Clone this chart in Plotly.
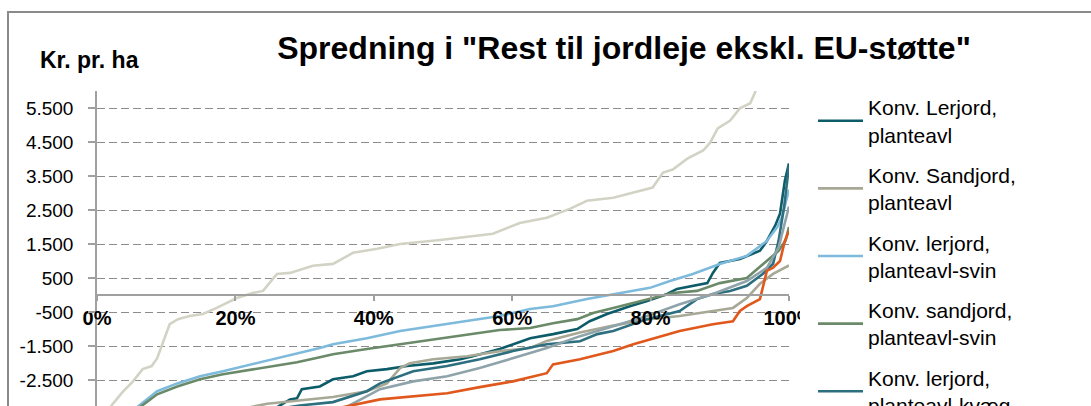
import plotly.graph_objects as go

# ---------------- data ----------------
series_names = [
    "Konv. Lerjord,<br>planteavl",
    "Konv. Sandjord,<br>planteavl",
    "Konv. lerjord,<br>planteavl-svin",
    "Konv. sandjord,<br>planteavl-svin",
    "Konv. lerjord,<br>planteavl-kvæg",
    "Konv. sandjord,<br>planteavl-kvæg",
    "Øko. lerjord,<br>planteavl",
    "Øko. kvæg",
]
series_colors = ["#0d5c6a", "#a8a896", "#7ebadb", "#6b8a69", "#2d6f7f",
                 "#8fa4aa", "#e0581c", "#d3d3c5"]

x_lerjord_pl = [0, 5, 10, 15, 20, 24, 26.7, 27.9, 28.9, 29.6, 32.2, 34.1, 37.0, 39.0, 41.9, 44.8,
                48.6, 52.5, 54.3, 58.2, 62.6, 65.9, 69.4, 71.2, 73.7, 77.0, 79.5, 82.4, 83.8,
                86.1, 88.2, 89.0, 90.0, 92.9, 95.8, 96.8, 98.0, 98.7, 99.4, 100]
y_lerjord_pl = [-7000, -5600, -4800, -4300, -3900, -3550, -3220, -3070, -3040, -2770, -2690, -2480,
                -2390, -2240, -2180, -2090, -2010, -1890, -1800, -1590, -1270, -1150, -1000, -770,
                -560, -330, -180, 30, 180, 270, 350, 650, 940, 1060, 1300, 1590, 2040, 2390, 3360, 3870]

x_sandjord_pl = [0, 10, 18, 22.1, 24.6, 29.3, 34.1, 39.0, 41.9, 43.8, 45.2, 48.6, 53.5, 58.2,
                 62.6, 65.0, 69.8, 74.6, 79.5, 84.2, 89.0, 91.9, 93.9, 95.8, 97.7, 100]
y_sandjord_pl = [-6500, -4800, -3800, -3300, -3200, -3100, -3000, -2830, -2600, -2150, -2010, -1890,
                 -1800, -1650, -1560, -1350, -1100, -900, -720, -620, -470, -380, -90, 330, 620, 870]

x_lerjord_svin = [0, 3, 5.8, 8.7, 11.6, 14.9, 18.2, 21.7, 25.4, 28.9, 32.2, 34.1, 39.0, 43.8, 48.6,
                  53.5, 58.2, 62.6, 65.9, 70.8, 75.6, 79.9, 82.8, 86.1, 90.0, 93.9, 96.8, 98.3,
                  99.0, 99.5, 100]
y_lerjord_svin = [-5200, -4000, -3300, -2830, -2600, -2390, -2240, -2070, -1890, -1740, -1560, -1450,
                  -1270, -1060, -910, -770, -620, -410, -330, -120, 60, 210, 410, 620, 910, 1150,
                  1590, 2000, 2300, 2700, 3100]

x_sandjord_svin = [0, 3, 6.2, 8.7, 11.6, 14.9, 18.2, 21.7, 25.4, 28.9, 32.2, 34.1, 39.0, 43.8, 48.6,
                   53.5, 58.2, 62.6, 65.9, 69.4, 71.7, 74.6, 79.5, 83.2, 86.7, 90.0, 93.9, 96.8,
                   98.5, 99.5, 100]
y_sandjord_svin = [-5400, -4100, -3300, -2920, -2690, -2480, -2330, -2210, -2090, -1980, -1830, -1740,
                   -1590, -1450, -1300, -1150, -1030, -970, -830, -710, -530, -380, -120, 60, 120,
                   350, 500, 1000, 1300, 1600, 2000]

x_lerjord_kvaeg = [0, 5, 10, 15, 20, 26, 29.3, 34.1, 39.0, 40.9, 45.7, 50.6, 55.3, 60.1, 65.0, 69.8,
                   72.3, 74.6, 79.5, 82.4, 84.2, 86.7, 89.0, 91.5, 93.9, 96.2, 97.7, 98.5, 99.3, 100]
y_lerjord_kvaeg = [-7500, -6000, -5000, -4300, -3800, -3350, -3250, -3150, -2830, -2600, -2240, -2090,
                   -1890, -1650, -1450, -1360, -1150, -1060, -710, -560, -470, -120, 30, 120, 270,
                   620, 920, 1600, 2600, 3800]

x_sandjord_kvaeg = [0, 10, 20, 30, 36, 40.9, 45.7, 50.6, 55.3, 60.1, 65.0, 69.8, 74.6, 79.5, 84.2,
                    89.0, 93.9, 96.8, 98.5, 99.5, 100]
y_sandjord_kvaeg = [-8000, -6000, -4600, -3700, -3300, -2770, -2540, -2390, -2150, -1860, -1560,
                    -1210, -910, -620, -270, 30, 410, 800, 1400, 2200, 2600]

x_oeko_lerjord = [0, 10, 20, 30, 35.5, 40.9, 45, 50.6, 55.3, 60.1, 65.0, 65.9, 69.8, 74.6, 77.5,
                  81.8, 84.2, 89.0, 91.9, 92.9, 93.9, 95.8, 96.2, 96.8, 97.7, 98.7, 99.4, 100]
y_oeko_lerjord = [-9000, -6500, -5000, -3900, -3300, -3070, -2990, -2890, -2710, -2540, -2300, -2040,
                  -1890, -1650, -1450, -1210, -1060, -860, -770, -470, -330, -120, 210, 710, 800,
                  1000, 1590, 1890]

x_oeko_kvaeg = [0, 1.9, 3.8, 5.2, 6.6, 7.9, 8.7, 9.4, 10.5, 11.7, 13.4, 15.3, 17.3, 20.2, 22.5, 24.0,
                26.0, 27.9, 31.2, 34.1, 37.0, 40.5, 43.8, 49.6, 57.2, 61.1, 65.0, 68.4, 70.8, 74.6,
                77.5, 80.3, 81.8, 83.2, 85.3, 87.6, 88.6, 89.7, 91.5, 92.9, 94.4, 95.1, 96.5, 98.5, 100]
y_oeko_kvaeg = [-4300, -3300, -2830, -2540, -2180, -2090, -1860, -1450, -860, -710, -620, -560, -380,
                -90, 60, 120, 620, 650, 860, 915, 1240, 1360, 1500, 1620, 1800, 2120, 2270, 2540,
                2770, 2860, 3010, 3160, 3600, 3690, 4010, 4250, 4480, 4900, 5130, 5490, 5640, 5960,
                6800, 8500, 12000]

series_x = [x_lerjord_pl, x_sandjord_pl, x_lerjord_svin, x_sandjord_svin,
            x_lerjord_kvaeg, x_sandjord_kvaeg, x_oeko_lerjord, x_oeko_kvaeg]
series_y = [y_lerjord_pl, y_sandjord_pl, y_lerjord_svin, y_sandjord_svin,
            y_lerjord_kvaeg, y_sandjord_kvaeg, y_oeko_lerjord, y_oeko_kvaeg]
draw_order = [7, 0, 1, 2, 3, 4, 5, 6]

y_tick_vals = [5500, 4500, 3500, 2500, 1500, 500, -500, -1500, -2500, -3500, -4500, -5500, -6500]
y_tick_text = ["5.500", "4.500", "3.500", "2.500", "1.500", "500", "-500", "-1.500", "-2.500",
               "-3.500", "-4.500", "-5.500", "-6.500"]
x_tick_vals = [0, 20, 40, 60, 80, 100]
x_tick_text = ["0%", "20%", "40%", "60%", "80%", "100%"]

title_text = "Spredning i \"Rest til jordleje ekskl. EU-støtte\""
y_unit_text = "Kr. pr. ha"

# ---------------- layout geometry ----------------
W, H = 1091, 700
ML, MT = 97, 91
PLOT_RIGHT = 789
PLOT_BOTTOM = 516
Y_MIN, Y_MAX = -6500, 6000
PH = PLOT_BOTTOM - MT
PW = PLOT_RIGHT - ML


def px_x(p):
    return (p - ML) / PW


def px_y(p):
    return (PLOT_BOTTOM - p) / PH


FONT = "Liberation Sans, Arial, sans-serif"

fig = go.Figure()
for i in draw_order:
    fig.add_trace(go.Scatter(
        x=series_x[i], y=series_y[i], mode="lines", name=series_names[i],
        line=dict(color=series_colors[i], width=2.6),
        legendgroup="g%d" % i, legendrank=i + 1,
    ))

fig.update_layout(
    width=W, height=H,
    margin=dict(l=ML, r=W - PLOT_RIGHT, t=MT, b=H - PLOT_BOTTOM, pad=0, autoexpand=False),
    paper_bgcolor="white", plot_bgcolor="white",
    font=dict(family=FONT, color="black", size=20),
    showlegend=True,
    legend=dict(
        x=px_x(813), xanchor="left",
        y=px_y(87), yanchor="top",
        bgcolor="rgba(0,0,0,0)", borderwidth=0,
        font=dict(family=FONT, size=21, color="black"),
        tracegroupgap=10,
        traceorder="grouped",
        itemwidth=45,
        maxheight=2000,
    ),
    title=dict(
        text=title_text,
        x=px_x(624), xref="paper", xanchor="center",
        y=1 - 48 / H, yref="container", yanchor="middle",
        font=dict(family=FONT, size=32, color="black", weight="bold"),
    ),
    xaxis=dict(
        range=[0, 100],
        tickvals=x_tick_vals, ticktext=x_tick_text,
        anchor="free", position=(0 - Y_MIN) / (Y_MAX - Y_MIN),
        showline=True, linecolor="#a0a0a0", linewidth=1.5,
        ticks="outside", ticklen=5, tickcolor="#a0a0a0", tickwidth=1.5,
        showgrid=False, zeroline=False,
        tickfont=dict(family=FONT, size=20, color="black", weight="bold"),
        ticklabelstandoff=0,
    ),
    yaxis=dict(
        range=[Y_MIN, Y_MAX],
        tickvals=y_tick_vals, ticktext=y_tick_text,
        showline=True, linecolor="#a0a0a0", linewidth=1.5,
        ticks="outside", ticklen=7, tickcolor="#a0a0a0", tickwidth=1.5,
        showgrid=True, gridcolor="#8c8c8c", gridwidth=1, griddash="8px,4px",
        zeroline=False,
        tickfont=dict(family=FONT, size=19, color="black"),
        ticklabelstandoff=11,
    ),
    shapes=[
        dict(type="rect", xref="paper", yref="paper",
             x0=px_x(8), x1=px_x(1300), y0=px_y(1200), y1=px_y(12),
             line=dict(color="#8a8a8a", width=2), fillcolor="rgba(0,0,0,0)",
             layer="below"),
        dict(type="rect", xref="paper", yref="paper",
             x0=px_x(800), x1=px_x(815), y0=px_y(345), y1=px_y(300),
             line=dict(width=0), fillcolor="white", layer="above"),
    ],
    annotations=[dict(
        text=y_unit_text, xref="paper", yref="paper",
        x=px_x(38), xanchor="left", y=px_y(60), yanchor="middle",
        showarrow=False,
        font=dict(family=FONT, size=23, color="black", weight="bold"),
    )],
)

fig.write_html(
    "out.html",
    config={"displayModeBar": False},
    post_script="document.body.style.margin='0';document.body.style.overflow='hidden';"
                "document.documentElement.style.overflow='hidden';",
)
